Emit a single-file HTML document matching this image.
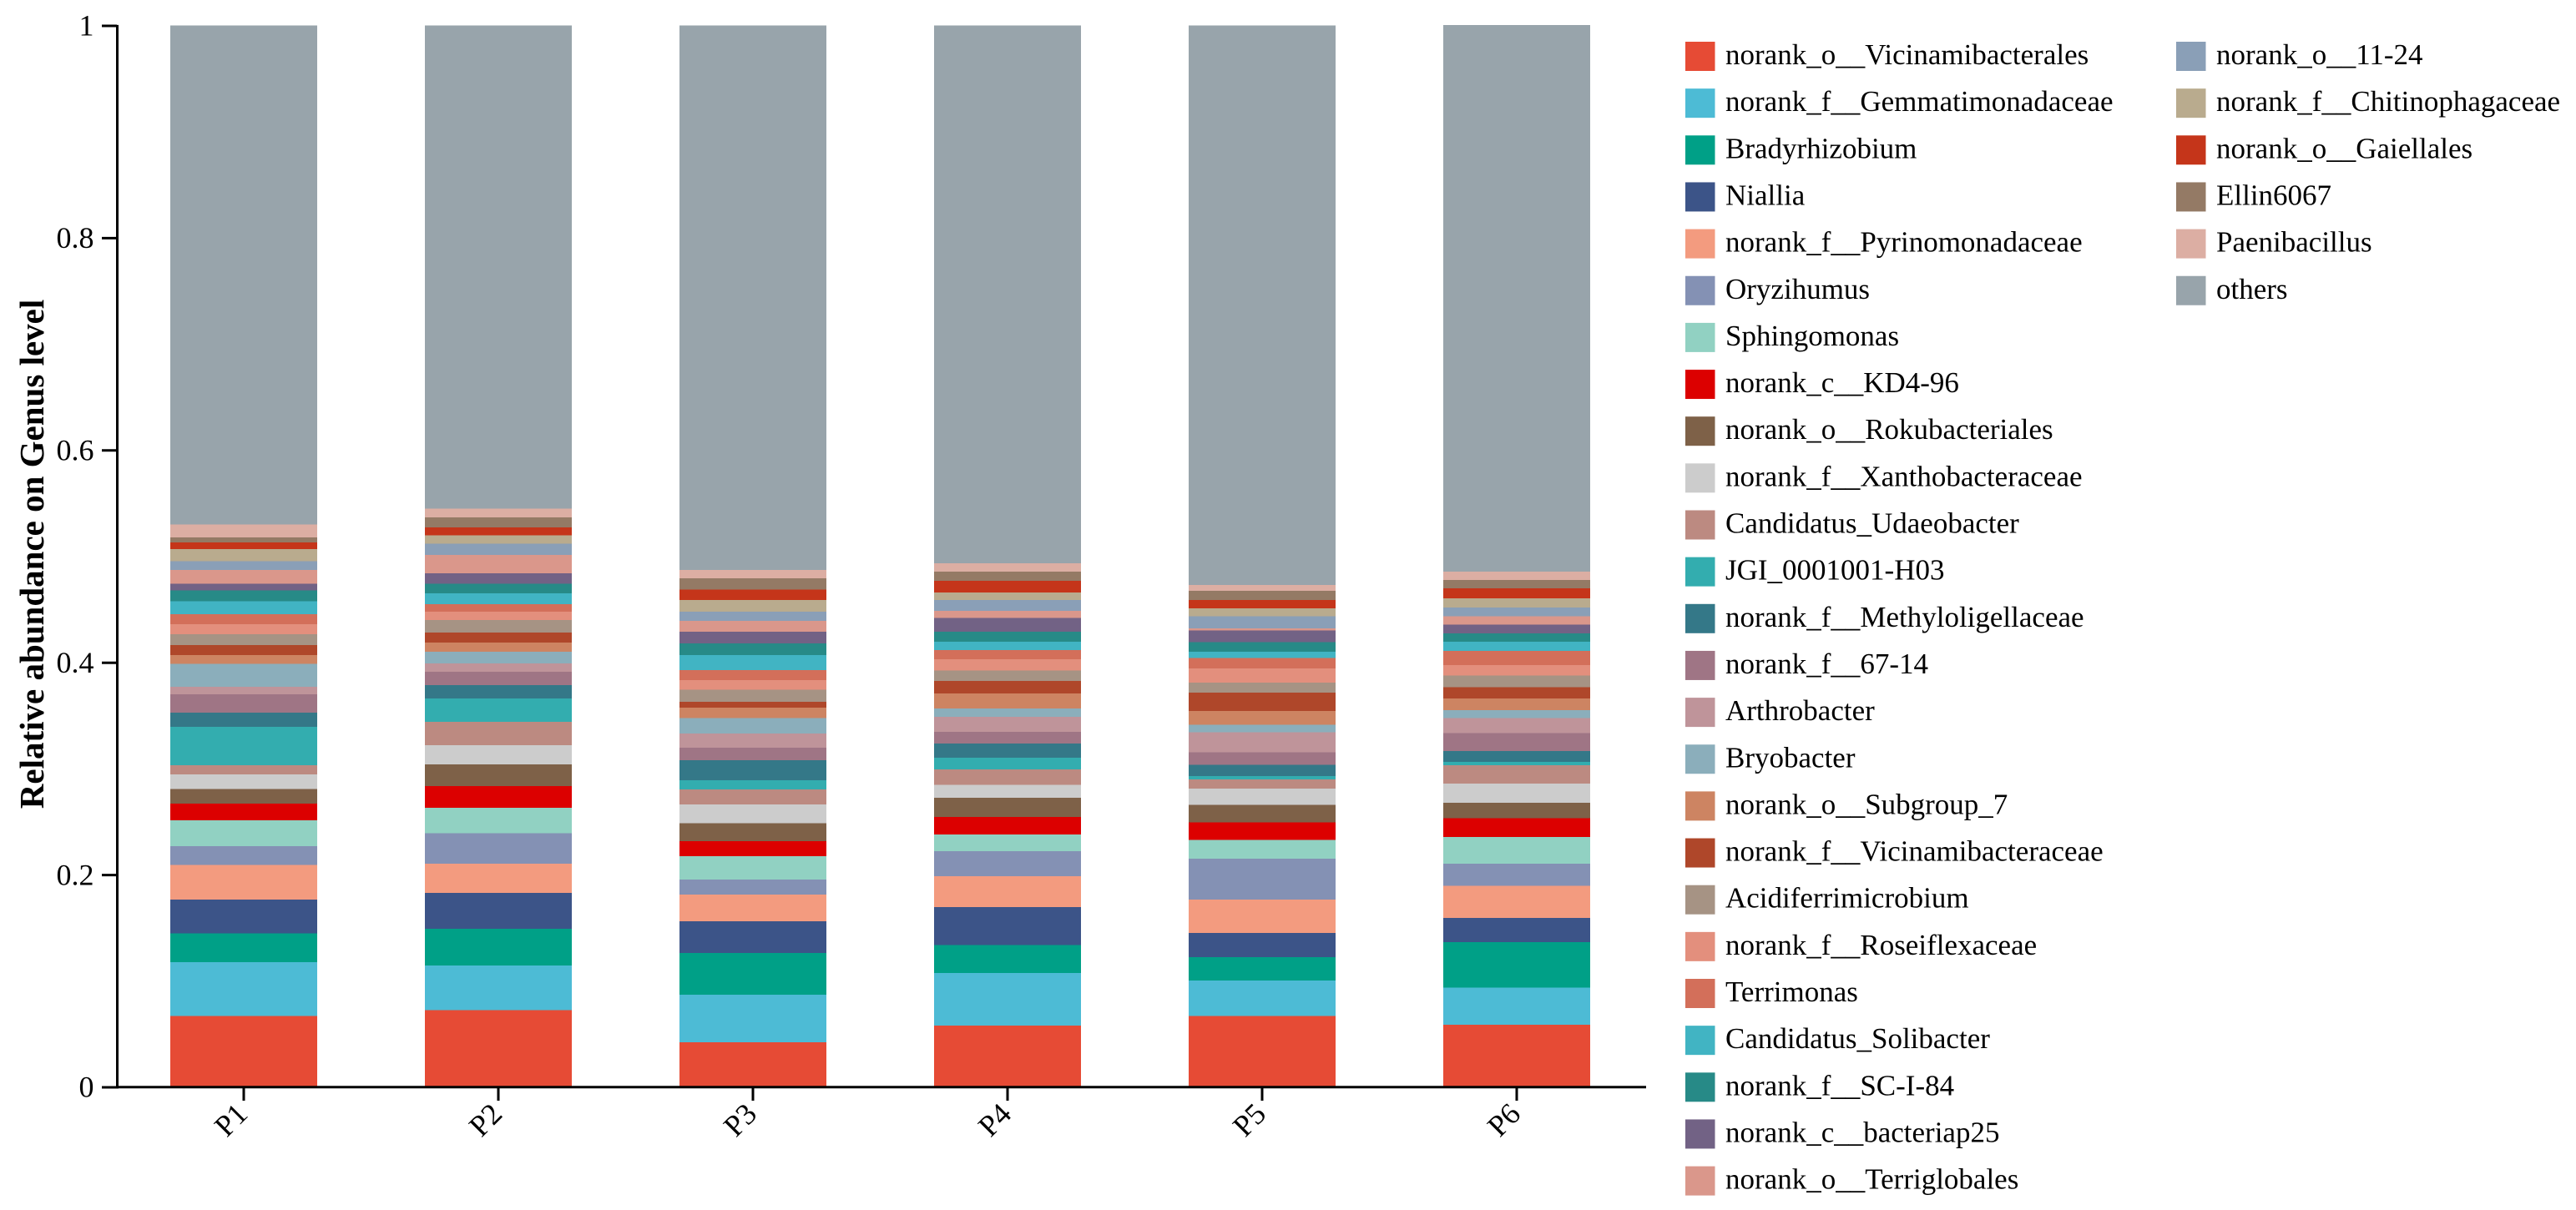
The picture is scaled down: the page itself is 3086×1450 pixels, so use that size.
<!DOCTYPE html>
<html lang="en">
<head>
<meta charset="utf-8">
<title>Relative abundance on Genus level</title>
<style>
html,body{margin:0;padding:0;background:#fff;width:3086px;height:1450px;overflow:hidden}
svg{display:block}
text{font-family:"Liberation Serif",serif;fill:#000}
</style>
</head>
<body>
<svg id="chart" xmlns="http://www.w3.org/2000/svg" width="3086" height="1450" viewBox="0 0 3086 1450"></svg>
<script>
const categories = ["P1","P2","P3","P4","P5","P6"];
const seriesNames = ["norank_o__Vicinamibacterales","norank_f__Gemmatimonadaceae","Bradyrhizobium","Niallia","norank_f__Pyrinomonadaceae","Oryzihumus","Sphingomonas","norank_c__KD4-96","norank_o__Rokubacteriales","norank_f__Xanthobacteraceae","Candidatus_Udaeobacter","JGI_0001001-H03","norank_f__Methyloligellaceae","norank_f__67-14","Arthrobacter","Bryobacter","norank_o__Subgroup_7","norank_f__Vicinamibacteraceae","Acidiferrimicrobium","norank_f__Roseiflexaceae","Terrimonas","Candidatus_Solibacter","norank_f__SC-I-84","norank_c__bacteriap25","norank_o__Terriglobales","norank_o__11-24","norank_f__Chitinophagaceae","norank_o__Gaiellales","Ellin6067","Paenibacillus","others"];
const seriesColors = ["#E64B35","#4DBBD5","#00A087","#3C5488","#F39B7F","#8491B4","#91D1C2","#DC0000","#7E6148","#CCCCCC","#BC8A81","#33ADAF","#347888","#9F7585","#BF949A","#8BAEBB","#CD8462","#AF472A","#A69384","#E38F7D","#D36F5A","#41B4C3","#278A87","#726285","#DA978B","#8A9FB7","#B9AB8E","#C5351A","#947A65","#DCAEA3","#98A4AB"];
const valuesP1 = [0.0667,0.0509,0.0270,0.0320,0.0325,0.0178,0.0244,0.0157,0.0136,0.0139,0.0084,0.0364,0.0134,0.0173,0.0071,0.0215,0.0084,0.0094,0.0102,0.0094,0.0094,0.0123,0.0099,0.0063,0.0131,0.0081,0.0116,0.0063,0.0047,0.0120,0.4703];
const valuesP2 = [0.0725,0.0419,0.0346,0.0338,0.0275,0.0285,0.0241,0.0204,0.0204,0.0181,0.0220,0.0220,0.0126,0.0126,0.0079,0.0112,0.0084,0.0094,0.0118,0.0079,0.0071,0.0102,0.0092,0.0097,0.0173,0.0105,0.0082,0.0073,0.0094,0.0084,0.4550];
const valuesP3 = [0.0421,0.0448,0.0393,0.0299,0.0252,0.0142,0.0220,0.0142,0.0167,0.0178,0.0142,0.0086,0.0189,0.0118,0.0134,0.0144,0.0100,0.0055,0.0112,0.0092,0.0094,0.0142,0.0110,0.0110,0.0102,0.0086,0.0110,0.0097,0.0108,0.0076,0.5132];
const valuesP4 = [0.0578,0.0495,0.0265,0.0356,0.0291,0.0236,0.0157,0.0165,0.0181,0.0123,0.0144,0.0110,0.0134,0.0110,0.0142,0.0079,0.0142,0.0118,0.0097,0.0108,0.0086,0.0079,0.0094,0.0128,0.0068,0.0102,0.0071,0.0110,0.0086,0.0079,0.5067];
const valuesP5 = [0.0667,0.0336,0.0218,0.0230,0.0312,0.0388,0.0175,0.0165,0.0165,0.0155,0.0086,0.0031,0.0105,0.0118,0.0192,0.0068,0.0131,0.0173,0.0094,0.0134,0.0097,0.0061,0.0089,0.0110,0.0019,0.0115,0.0076,0.0079,0.0086,0.0055,0.5271];
const valuesP6 = [0.0586,0.0351,0.0427,0.0228,0.0304,0.0207,0.0252,0.0175,0.0145,0.0183,0.0171,0.0034,0.0100,0.0170,0.0142,0.0076,0.0110,0.0105,0.0108,0.0102,0.0131,0.0086,0.0081,0.0081,0.0079,0.0084,0.0086,0.0094,0.0079,0.0079,0.5146];
const sampleValues = [valuesP1,valuesP2,valuesP3,valuesP4,valuesP5,valuesP6];
const yTickValues = [0,0.2,0.4,0.6,0.8,1];
const yTickLabels = ["0","0.2","0.4","0.6","0.8","1"];

const NS = "http://www.w3.org/2000/svg";
const svg = document.getElementById("chart");
const plotBottom = 1302.5, plotHeight = 1272, firstCenter = 292, bandStep = 305, barWidth = 176;
function yScale(v){ return plotBottom - v * plotHeight; }
function xScale(i){ return firstCenter + i * bandStep; }
function make(tag, attrs, parent){
  const el = document.createElementNS(NS, tag);
  for (const k in attrs) el.setAttribute(k, attrs[k]);
  (parent || svg).appendChild(el);
  return el;
}

const barsGroup = make("g", {"shape-rendering":"crispEdges"});


sampleValues.forEach(function(vals, i){
  let cum = 0;
  vals.forEach(function(v, s){
    const y1 = yScale(cum + v), y0 = yScale(cum);
    const r = make("rect", {x: xScale(i) - barWidth/2, y: y1, width: barWidth, height: y0 - y1, fill: seriesColors[s]}, barsGroup);
    
    
    cum += v;
  });
});

const axisGroup = make("g", {stroke:"#000"});


const yAxisLine = make("line", {x1:140.5, x2:140.5, y1:yScale(1)-0.6, y2:yScale(0)+2, "stroke-width":3}, axisGroup);


const xAxisLine = make("line", {x1:139, x2:1972, y1:yScale(0)+0.3, y2:yScale(0)+0.3, "stroke-width":3}, axisGroup);



yTickValues.forEach(function(v, i){
  const ty = yScale(v) + 0.5;
  const t = make("line", {x1:122, x2:140, y1:ty, y2:ty, "stroke-width":3}, axisGroup);
  
  
  const l = make("text", {x:112.5, y:ty+11.7, "text-anchor":"end", "font-size":36});
  l.textContent = yTickLabels[i];
  
  
});

categories.forEach(function(c, i){
  const x = xScale(i);
  const t = make("line", {x1:x, x2:x, y1:yScale(0), y2:1319, "stroke-width":3}, axisGroup);
  
  
  const l = make("text", {transform:"translate(" + (x+6.5) + " 1337) rotate(-45)", "text-anchor":"end", "font-size":36});
  l.textContent = c;
  
  
});

const yTitle = make("text", {transform:"translate(52 664) rotate(-90)", "text-anchor":"middle", "font-size":41, "font-weight":"bold"});
yTitle.textContent = "Relative abundance on Genus level";



const legendGroup = make("g", {});


const legendRowsPerColumn = 25, legendTop = 50, legendPitch = 56.15;
const legendColumnX = [2019, 2607];
seriesNames.forEach(function(name, s){
  const col = s < legendRowsPerColumn ? 0 : 1;
  const row = s < legendRowsPerColumn ? s : s - legendRowsPerColumn;
  const y = legendTop + row * legendPitch;
  const sw = make("rect", {x: legendColumnX[col], y: y, width: 35.5, height: 35, fill: seriesColors[s]}, legendGroup);
  
  
  const tx = make("text", {x: legendColumnX[col] + 48, y: y + 27, "font-size":35}, legendGroup);
  tx.textContent = name;
  
  
});
</script>
</body>
</html>
